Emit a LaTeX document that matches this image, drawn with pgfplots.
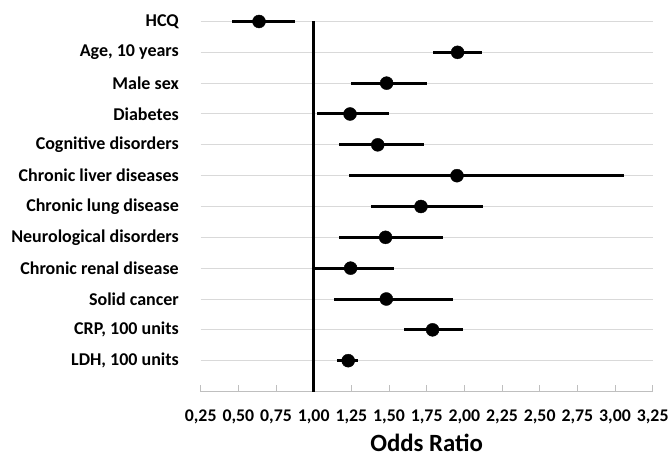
\documentclass[border=0pt]{standalone}
\usepackage{pgfplots}
\usepackage{pgfplotstable}
\pgfplotsset{compat=1.18}
\usepackage{fontspec}
\setmainfont{Carlito}
\definecolor{gridgray}{HTML}{D9D9D9}
\definecolor{axgray}{HTML}{BFBFBF}

% row: 12 = top (HCQ) ... 1 = bottom (LDH)
\pgfplotstableread{
row or    lo    hi
12  0.637 0.460 0.876
11  1.955 1.794 2.117
10  1.484 1.247 1.754
9   1.241 1.024 1.500
8   1.425 1.166 1.734
7   1.951 1.234 3.057
6   1.712 1.380 2.123
5   1.477 1.166 1.858
4   1.245 1.000 1.530
3   1.482 1.137 1.926
2   1.789 1.599 1.990
1   1.229 1.157 1.294
}\ordata

\begin{document}
\begin{tikzpicture}
\begin{axis}[
  name=ax, scale only axis, width=452pt, height=370pt,
  xmin=0.25, xmax=3.25, ymin=0, ymax=12,
  xtick={0.25,0.5,...,3.25},
  ytick={1,...,12},
  yticklabels={{LDH, 100 units},{CRP, 100 units},Solid cancer,Chronic renal disease,Neurological disorders,Chronic lung disease,Chronic liver diseases,Cognitive disorders,Diabetes,Male sex,{Age, 10 years},HCQ},
  axis line style={draw=none},
  ymajorgrids, grid style={gridgray, line width=1pt},
  ytick style={draw=none},
  xtick pos=bottom, tick align=inside, major tick length=7pt,
  xtick style={axgray, line width=0.8pt},
  yticklabel style={font=\bfseries\fontsize{18}{21}\selectfont, anchor=east, inner sep=0pt, xshift=-21.7pt},
  xticklabel style={font=\bfseries\fontsize{17.8}{21}\selectfont, anchor=north, inner sep=0pt, yshift=-18pt},
  /pgf/number format/.cd, fixed, fixed zerofill, precision=2, use comma, assume math mode=true,
  /pgfplots/.cd,
  xlabel={Odds Ratio},
  xlabel style={font=\bfseries\fontsize{24.8}{28}\selectfont, at={(axis description cs:0.5,0)}, anchor=base, inner sep=0pt, yshift=-59.5pt},
  clip=false]
  \draw[axgray, line width=0.8pt] (axis cs:0.25,0) -- (axis cs:3.25,0);
  \addplot[black, line width=2.6pt, no marks] coordinates {(1,0) (1,12)};
  \addplot[black, only marks, mark=*, mark size=6.5pt,
    error bars/.cd, x dir=both, x explicit, error mark=none,
    error bar style={line width=3pt, black}]
    table[x=or, y=row,
      x error plus expr=\thisrow{hi}-\thisrow{or},
      x error minus expr=\thisrow{or}-\thisrow{lo}] {\ordata};
\end{axis}
\path (ax.south west) ++(-200.7pt,-63.5pt) rectangle ++(671pt,455pt);
\end{tikzpicture}
\end{document}
